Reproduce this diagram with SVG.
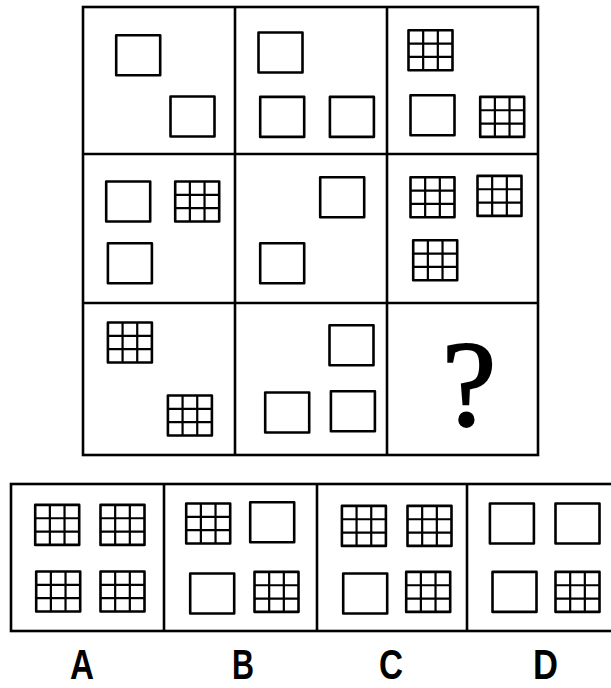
<svg xmlns="http://www.w3.org/2000/svg" xmlns:xlink="http://www.w3.org/1999/xlink" width="611" height="688" viewBox="0 0 611 688">
<style>
.frame{fill:none;stroke:#000;stroke-width:2.6}
.shape{fill:#fff;stroke:#000;stroke-width:2.6;stroke-linejoin:round}
.inner{stroke:#000;stroke-width:2.2}
.q{font-family:"Liberation Serif","DejaVu Serif",serif;font-size:122px;fill:#000;stroke:#000;stroke-width:2}
.lbl{font-family:"Liberation Sans","DejaVu Sans",sans-serif;font-weight:bold;font-size:42px;fill:#000}
</style>
<defs>
<rect id="sq" class="shape" width="44" height="40"/>
<g id="gr">
<rect class="shape" width="44" height="40"/>
<path class="inner" d="M14.67 0V40M29.33 0V40M0 13.33H44M0 26.67H44"/>
</g>
</defs>
<rect width="611" height="688" fill="#fff"/>
<g id="connectors"/>
<g id="matrix-frame">
<rect class="frame" x="83" y="7" width="455" height="448"/>
<path class="frame" d="M235 7V455M387 7V455M83 154H538M83 303H538"/>
</g>
<g id="cell-1-1">
<use xlink:href="#sq" x="116.2" y="35.2"/>
<use xlink:href="#sq" x="170.5" y="96.5"/>
</g>
<g id="cell-1-2">
<use xlink:href="#sq" x="258.5" y="32.5"/>
<use xlink:href="#sq" x="260.2" y="96.9"/>
<use xlink:href="#sq" x="329.9" y="96.9"/>
</g>
<g id="cell-1-3">
<use xlink:href="#gr" x="408.5" y="30.2"/>
<use xlink:href="#sq" x="410.5" y="95.2"/>
<use xlink:href="#gr" x="480.2" y="96.9"/>
</g>
<g id="cell-2-1">
<use xlink:href="#sq" x="106.2" y="181.5"/>
<use xlink:href="#gr" x="175.2" y="181.5"/>
<use xlink:href="#sq" x="107.9" y="243.2"/>
</g>
<g id="cell-2-2">
<use xlink:href="#sq" x="320.2" y="177.2"/>
<use xlink:href="#sq" x="260.2" y="243.2"/>
</g>
<g id="cell-2-3">
<use xlink:href="#gr" x="410.5" y="177.2"/>
<use xlink:href="#gr" x="477.5" y="175.9"/>
<use xlink:href="#gr" x="413.2" y="240.2"/>
</g>
<g id="cell-3-1">
<use xlink:href="#gr" x="107.9" y="322.5"/>
<use xlink:href="#gr" x="167.9" y="395.5"/>
</g>
<g id="cell-3-2">
<use xlink:href="#sq" x="329.5" y="325.2"/>
<use xlink:href="#sq" x="265.2" y="392.5"/>
<use xlink:href="#sq" x="330.9" y="391.2"/>
</g>
<g id="cell-3-3">
<text class="q" x="469" y="425" text-anchor="middle">?</text>
</g>
<g id="options-frame">
<rect class="frame" x="11" y="484" width="610" height="147"/>
<path class="frame" d="M164 484V631M317 484V631M467 484V631"/>
</g>
<g id="option-A">
<use xlink:href="#gr" x="35.2" y="504.9"/>
<use xlink:href="#gr" x="100.5" y="504.9"/>
<use xlink:href="#gr" x="36.2" y="571.5"/>
<use xlink:href="#gr" x="100.5" y="571.5"/>
<text class="lbl" x="70" y="679" textLength="24" lengthAdjust="spacingAndGlyphs">A</text>
</g>
<g id="option-B">
<use xlink:href="#gr" x="186.2" y="503.5"/>
<use xlink:href="#sq" x="250.2" y="502.2"/>
<use xlink:href="#sq" x="190.2" y="573.5"/>
<use xlink:href="#gr" x="254.5" y="571.9"/>
<text class="lbl" x="232" y="679" textLength="22" lengthAdjust="spacingAndGlyphs">B</text>
</g>
<g id="option-C">
<use xlink:href="#gr" x="341.9" y="505.9"/>
<use xlink:href="#gr" x="407.5" y="505.9"/>
<use xlink:href="#sq" x="343.2" y="573.5"/>
<use xlink:href="#gr" x="406.2" y="571.9"/>
<text class="lbl" x="379" y="679" textLength="24" lengthAdjust="spacingAndGlyphs">C</text>
</g>
<g id="option-D">
<use xlink:href="#sq" x="489.9" y="503.5"/>
<use xlink:href="#sq" x="555.5" y="503.5"/>
<use xlink:href="#sq" x="492.5" y="571.9"/>
<use xlink:href="#gr" x="555.5" y="571.9"/>
<text class="lbl" x="533" y="679" textLength="25" lengthAdjust="spacingAndGlyphs">D</text>
</g>
</svg>
